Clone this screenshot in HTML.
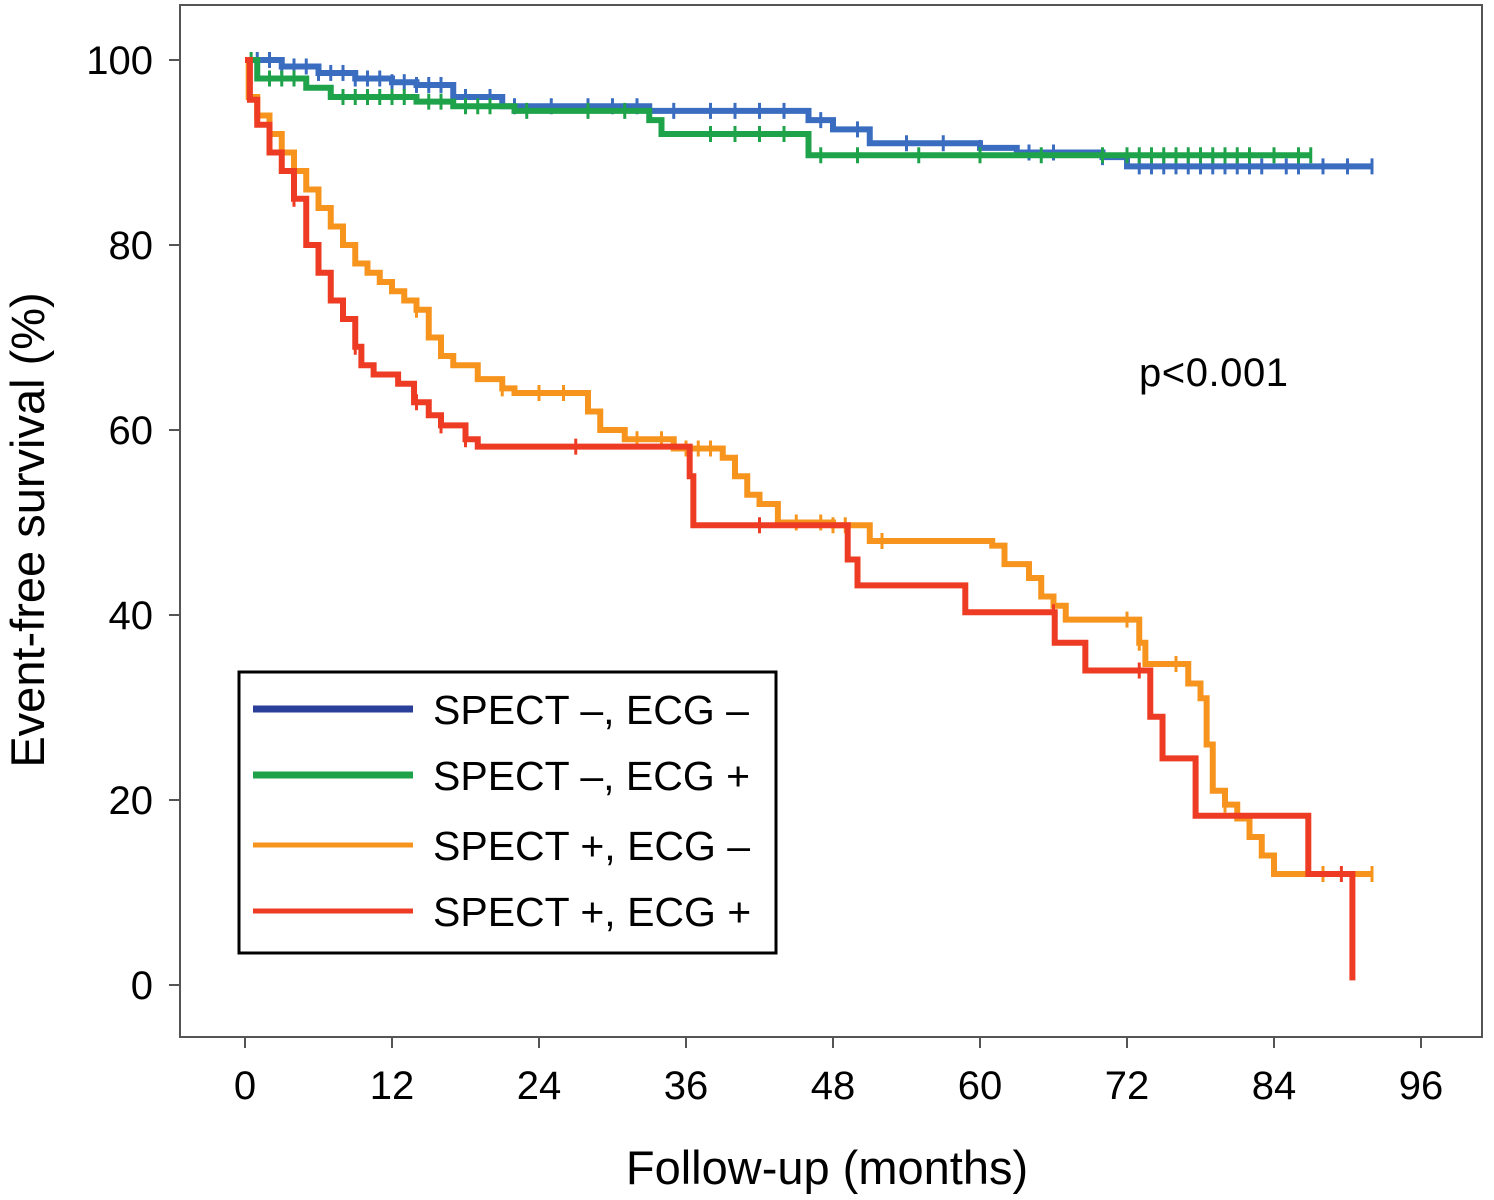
<!DOCTYPE html>
<html><head><meta charset="utf-8"><style>
body{margin:0;background:#fff}
text{font-family:"Liberation Sans",Arial,sans-serif;fill:#000}
</style></head><body>
<svg id="c" width="1494" height="1195" xmlns="http://www.w3.org/2000/svg">
<rect x="180" y="5" width="1302" height="1032" fill="none" stroke="#555" stroke-width="2"/>
<g id="axes"></g>
<g id="series"></g>
<text x="1139" y="386" font-size="40" textLength="149">p&lt;0.001</text>
<text x="827" y="1184" font-size="47" text-anchor="middle">Follow-up (months)</text>
<text transform="translate(44,530) rotate(-90)" font-size="47" text-anchor="middle">Event-free survival (%)</text>
<g>
<rect x="239" y="672" width="537" height="281" fill="#fff" stroke="#000" stroke-width="3"/>
<g id="legend"></g>
</g>
</svg>
<script>
const xTicks=[0,12,24,36,48,60,72,84,96];
const yTicks=[0,20,40,60,80,100];
const seriesNames=["SPECT \u2013, ECG \u2013","SPECT \u2013, ECG +","SPECT +, ECG \u2013","SPECT +, ECG +"];
const seriesColors=["#3a6cc0","#1fa34a","#f7941d","#ee3b24"];
const blueT=[0,3,6,9,12,14,17,21,33,46,48,51,60,63,70,72,92];
const blueS=[100,99.3,98.6,98,97.6,97.3,96,95,94.5,93.5,92.5,91,90.5,90,89.5,88.5,88.5];
const greenT=[0,1,5,7,14,17,22,33,34,46,87];
const greenS=[100,98,97,96,95.5,95,94.5,93.5,92,89.7,89.7];
const orangeT=[0,0.3,1,2,3,4,5,6,7,8,9,10,11,12,13,14,15,16,17,19,21,22,27,28,29,31,35,39,40,41,42,43.5,48,51,61,62,64,65,66,67,72.5,73,73.5,76,77,78,78.5,79,80,81,82,83,84,92];
const orangeS=[100,96,94,92,90,88,86,84,82,80,78,77,76,75,74,73,70,68,67,65.5,64.5,64,64,62,60,59,58,57,55,53,52,50,49.7,48,47.5,45.5,44,42,41,39.5,39.5,37,34.7,34.7,32.6,31,26,21,19.5,18,16,14,12,12];
const redT=[0,0.4,1,2,3,4,5,6,7,8,9,9.5,10.5,12.5,13.8,15,16,18,19,36,36.3,36.6,49.2,50,58.8,66.1,68.6,72.7,73.9,74.9,77.6,86.8,90.4,90.4];
const redS=[100,95.7,93,90,88,85,80,77,74,72,69,67,66,65,63,61.6,60.5,59,58.2,58.2,55,49.7,46,43.2,40.3,37,34,34,29,24.5,18.3,12,12,0.5];
const blueC=[1,2,3,4,5,6,7,8,9,10,11,12,13,14,15,16,18,20,22,25,28,30,32,35,38,40,42,44,47,50,54,57,60,64,66,70,73,74,75,76,77,78,79,80,81,82,83,85,86,88,90,92];
const greenC=[0.5,2,3,4,8,9,10,11,12,13,15,16,18,19,20,23,28,31,38,40,42,44,47,50,55,60,65,70,72,73,74,75,76,77,78,79,80,81,82,84,86,87];
const orangeC=[14,21,24,26,32,34,36,37,38,45,47,48,49,52,72,73,76,80,88,92];
const redC=[4,9,14,16,18,27,42,66,73,89.5];
const X=m=>245+m*(1421-245)/96, Y=p=>985-p*(985-60)/100;
const NS="http://www.w3.org/2000/svg";
function mk(t,a,p){const e=document.createElementNS(NS,t);for(const k in a)e.setAttribute(k,a[k]);p.appendChild(e);return e;}
const ax=document.getElementById('axes');
xTicks.forEach(v=>{const l=mk('line',{x1:X(v),x2:X(v),y1:1037,y2:1048,stroke:'#555','stroke-width':2},ax);


const t=mk('text',{x:X(v),y:1099,'font-size':40,'text-anchor':'middle'},ax);t.textContent=v;

});
yTicks.forEach(v=>{const l=mk('line',{x1:169,x2:180,y1:Y(v),y2:Y(v),stroke:'#555','stroke-width':2},ax);


const t=mk('text',{x:153,y:Y(v)+14,'font-size':40,'text-anchor':'end'},ax);t.textContent=v;

});
const sg=document.getElementById('series');
const all=[[blueT,blueS,blueC],[greenT,greenS,greenC],[orangeT,orangeS,orangeC],[redT,redS,redC]];
[0,1,2,3].forEach(i=>{const [T,S,C]=all[i];let d='M'+X(T[0])+','+Y(S[0]);
for(let k=1;k<T.length;k++){d+=' H'+X(T[k])+' V'+Y(S[k]);}
const p=mk('path',{d:d,fill:'none',stroke:seriesColors[i],'stroke-width':6},sg);


C.forEach(c=>{let s=S[0];for(let k=0;k<T.length;k++){if(T[k]<=c)s=S[k];}
const l=mk('line',{x1:X(c),x2:X(c),y1:Y(s)-8,y2:Y(s)+8,stroke:seriesColors[i],'stroke-width':3},sg);

});});
const lg=document.getElementById('legend');
const ly=[709,775,845,911];
seriesNames.forEach((n,i)=>{const l=mk('line',{x1:253,x2:413,y1:ly[i],y2:ly[i],stroke:i==0?'#2a3f9a':seriesColors[i],'stroke-width':i<2?7:5},lg);


const t=mk('text',{x:433,y:ly[i]+15,'font-size':41},lg);t.textContent=n;

});
</script>
</body></html>
